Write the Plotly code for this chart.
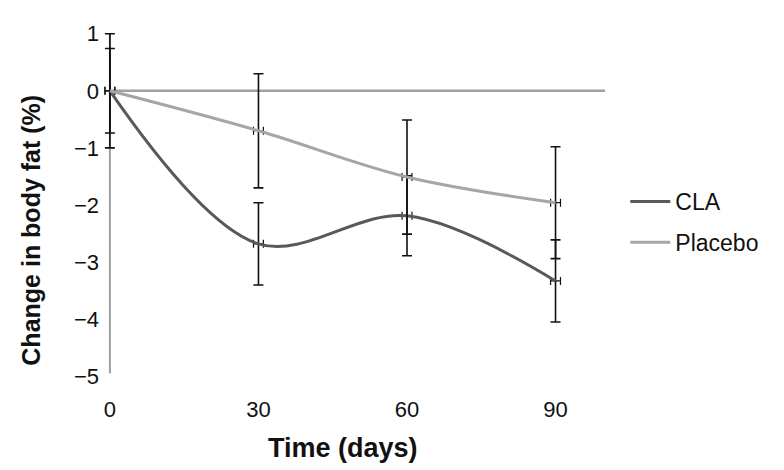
import plotly.graph_objects as go

days = [0, 30, 60, 90]
cla = [0.0, -2.68, -2.19, -3.33]
cla_err = [0.74, 0.72, 0.70, 0.72]
placebo = [0.0, -0.70, -1.51, -1.96]
placebo_err = [1.0, 1.0, 1.0, 0.98]
x_err = [1, 1, 1, 1]
x_ticks = [0, 30, 60, 90]
y_ticks = [1, 0, -1, -2, -3, -4, -5]
y_labels = ["1", "0", "\u22121", "\u22122", "\u22123", "\u22124", "\u22125"]

FONT = "Liberation Sans, Arial, sans-serif"

fig = go.Figure()

for name, vals, err, color in [("CLA", cla, cla_err, "#595959"),
                               ("Placebo", placebo, placebo_err, "#a6a6a6")]:
    fig.add_trace(go.Scatter(
        x=days, y=vals, name=name, mode="lines", legendgroup=name,
        line=dict(color=color, width=3, shape="spline", smoothing=1),
        error_y=dict(type="data", array=err, visible=True, color="#111111",
                     thickness=1.6, width=5),
        error_x=dict(type="data", array=x_err, visible=True, color="#111111",
                     thickness=1.2, width=4),
    ))

fig.update_layout(
    width=784, height=470,
    margin=dict(l=92, r=182, t=20, b=96),
    paper_bgcolor="white", plot_bgcolor="white",
    font=dict(family=FONT, size=22, color="#111111"),
    showlegend=True,
    legend=dict(x=1.03, y=0.452, xanchor="left", yanchor="middle",
                font=dict(size=23, family=FONT), bgcolor="rgba(0,0,0,0)",
                itemwidth=40, tracegroupgap=8),
    shapes=[
        dict(type="line", xref="x", yref="y", x0=0, x1=100, y0=0, y1=0,
             line=dict(color="#a0a0a0", width=2.5), layer="below"),
        dict(type="line", xref="x", yref="y", x0=0, x1=0, y0=-4.95, y1=1,
             line=dict(color="#a0a0a0", width=2), layer="below"),
    ],
    annotations=[
        dict(text="<b>Time (days)</b>", xref="x", yref="paper", x=47, y=0,
             xanchor="center", yanchor="middle", yshift=-66, showarrow=False,
             font=dict(size=27, family=FONT, color="#111111")),
        dict(text="<b>Change in body fat (%)</b>", xref="paper", yref="y", x=0, y=-2.45,
             xanchor="center", yanchor="middle", xshift=-69, textangle=-90,
             showarrow=False, font=dict(size=25, family=FONT, color="#111111")),
    ],
)

fig.update_xaxes(
    range=[-2, 101], tickmode="array", tickvals=x_ticks,
    ticktext=[str(v) for v in x_ticks], showgrid=False, zeroline=False,
    showline=False, ticks="", ticklabelstandoff=12,
    tickfont=dict(size=22, family=FONT, color="#111111"),
)
fig.update_yaxes(
    range=[-5.1, 1.1], tickmode="array", tickvals=y_ticks, ticktext=y_labels,
    showgrid=False, zeroline=False, showline=False, ticks="",
    tickfont=dict(size=22, family=FONT, color="#111111"),
)

fig.write_html("out.html")
